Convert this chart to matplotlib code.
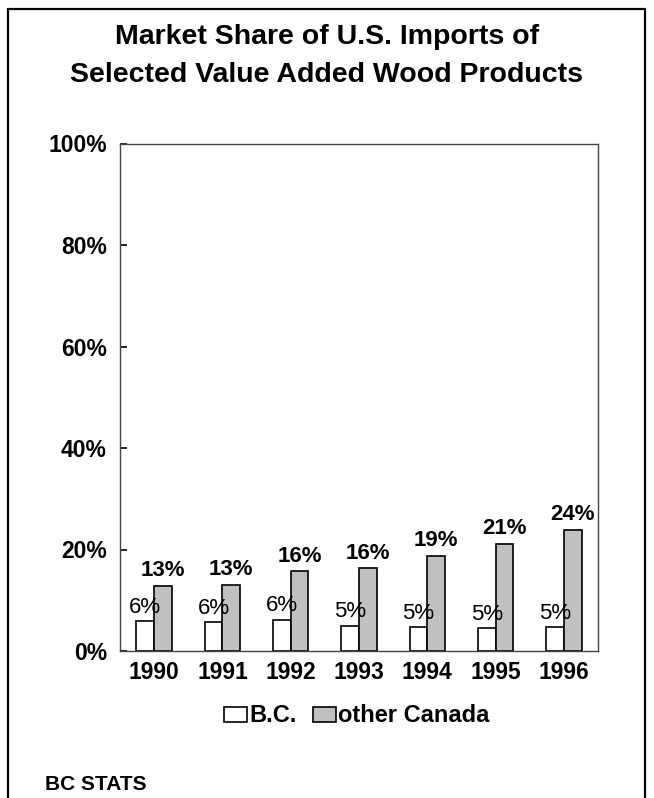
import matplotlib
matplotlib.use("Agg")
import matplotlib.pyplot as plt
from matplotlib.patches import Rectangle
import numpy as np

plt.rcParams['font.family'] = ['Liberation Sans', 'DejaVu Sans']

years = ["1990", "1991", "1992", "1993", "1994", "1995", "1996"]
bc_share = [5.9, 5.7, 6.2, 5.0, 4.7, 4.5, 4.7]
other_canada_share = [12.8, 13.0, 15.7, 16.3, 18.8, 21.1, 23.8]
bc_labels = ["6%", "6%", "6%", "5%", "5%", "5%", "5%"]
other_labels = ["13%", "13%", "16%", "16%", "19%", "21%", "24%"]
y_ticks = [0, 20, 40, 60, 80, 100]
y_tick_labels = ["0%", "20%", "40%", "60%", "80%", "100%"]
title_lines = ["Market Share of U.S. Imports of",
               "Selected Value Added Wood Products"]

W, H = 654, 798
fig = plt.figure(figsize=(W / 100, H / 100), dpi=100)
ax = fig.add_axes([120 / W, 1 - 651 / H, (598 - 120) / W, (651 - 143.5) / H])

x = np.arange(len(years))
bw = 0.26
ax.bar(x - bw / 2, bc_share, bw, color="white", edgecolor="black",
       linewidth=1.2, label="B.C.")
ax.bar(x + bw / 2, other_canada_share, bw, color="#c0c0c0",
       edgecolor="black", linewidth=1.2, label="other Canada")

for xi, v, t in zip(x, bc_share, bc_labels):
    ax.annotate(t, (xi - bw / 2, v), xytext=(0, 6), textcoords="offset points",
                ha="center", va="baseline", fontsize=16)
for xi, v, t in zip(x, other_canada_share, other_labels):
    ax.annotate(t, (xi + bw / 2, v), xytext=(0, 7), textcoords="offset points",
                ha="center", va="baseline", fontsize=16, fontweight="bold")

ax.set_xlim(-0.5, len(years) - 0.5)
ax.set_ylim(0, 100)
ax.set_xticks(x)
ax.set_xticklabels(years, fontsize=16.5, fontweight="bold")
ax.set_yticks(y_ticks)
ax.set_yticklabels(y_tick_labels, fontsize=16.5, fontweight="bold")
ax.tick_params(axis="y", direction="in", length=5, width=1.2, pad=9.5,
               color="black")
ax.tick_params(axis="x", length=0, pad=7.5)
for s in ax.spines.values():
    s.set_color("#444444")
    s.set_linewidth(1.0)

for line, base in zip(title_lines, [44.5, 82]):
    fig.text(327 / W, 1 - base / H, line, ha="center", va="baseline",
             fontsize=20.5, fontweight="bold")

leg = ax.legend(loc="center", bbox_to_anchor=(357 / W, 1 - 716 / H),
                bbox_transform=fig.transFigure, ncol=2, frameon=False,
                handlelength=0.96, handleheight=0.61, handletextpad=0.1,
                columnspacing=0.7, borderpad=0,
                prop={"size": 17, "weight": "bold"})

fig.text(45 / W, 1 - 790 / H, "BC STATS", ha="left", va="baseline",
         fontsize=15, fontweight="bold")

fig.patches.append(Rectangle((8 / W, -0.05), (645 - 8) / W, 1.05 - 9 / H,
                             transform=fig.transFigure, fill=False,
                             edgecolor="black", linewidth=1.6))

fig.savefig("out.png", dpi=100)
